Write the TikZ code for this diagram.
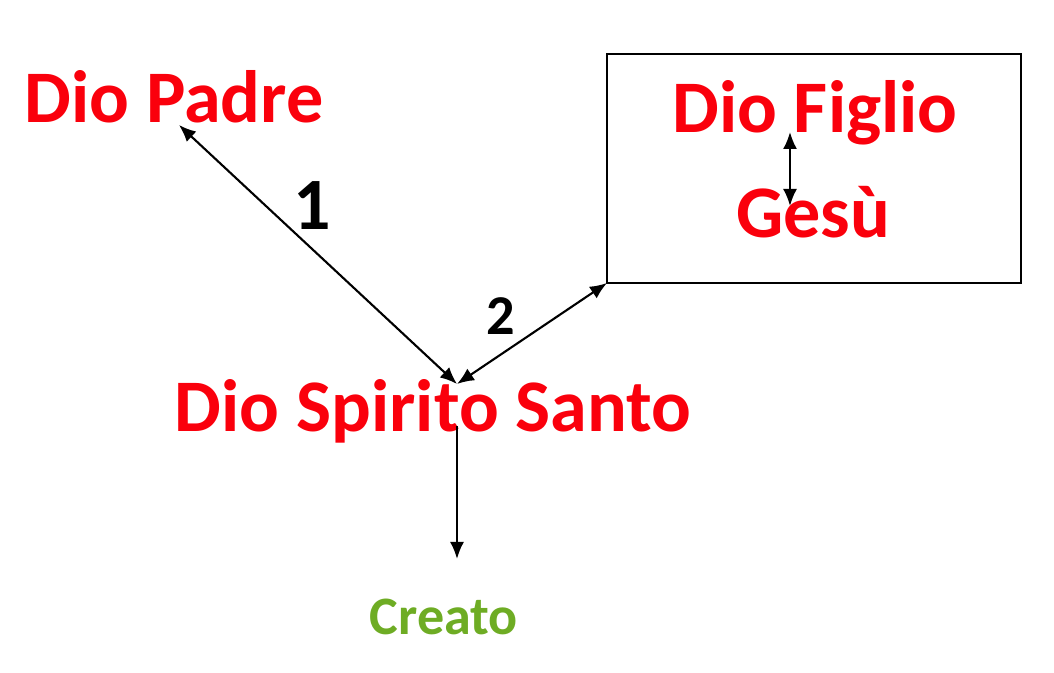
\documentclass[tikz,border=0pt]{standalone}
\usepackage{fontspec}
\setmainfont{Carlito}
\usepackage{xcolor}
\usetikzlibrary{arrows.meta, calc}

\definecolor{dioRed}{RGB}{250,0,12}
\definecolor{creatoGreen}{RGB}{110,172,36}

\tikzset{
    dio/.style={text=dioRed, font=\fontsize{21.1}{25}\selectfont\bfseries, inner sep=0pt, anchor=base},
    num/.style={text=black, font=\bfseries, inner sep=0pt, anchor=base},
    link/.style={line width=0.6pt, >={Latex[length=1.7mm,width=1.4mm]}}
}

\begin{document}
\begin{tikzpicture}
        \useasboundingbox (0,0) rectangle (10.54,6.73);
        
        \coordinate (P) at (1.79,5.48);
        \coordinate (S) at (4.57,2.89);
        \coordinate (S2) at (4.57,2.47);
        \coordinate (C) at (4.57,1.14);
        \coordinate (F1) at (6.07,3.90);
        \coordinate (F2) at (10.21,6.19);
        \coordinate (G1) at (7.90,5.41);
        \coordinate (G2) at (7.90,4.67);
        
        \node[dio] (padre) at (1.74,5.50) {Dio Padre};
        \node[dio] (figlio) at (8.15,5.40) {Dio Figlio};
        \node[dio] (gesu) at (8.13,4.35) {Gesù};
        \node[dio] (spirito) at (4.33,2.41) {Dio Spirito Santo};
        \node[anchor=base, inner sep=0pt, text=creatoGreen, font=\fontsize{15.4}{18}\selectfont\bfseries] (creato) at (4.44,0.38) {Creato};
        
        \draw[line width=0.6pt] (F1) rectangle (F2);
        
        \draw[link, <->] (P) -- (S);
        \draw[link, <->] (S) -- (F1);
        \draw[link, ->] (S2) -- (C);
        \draw[link, <->] (G1) -- (G2);
        
        \node[num, font=\fontsize{21}{24}\selectfont\bfseries] (uno) at (3.12,4.43) {1};
        \node[num, font=\fontsize{16}{19}\selectfont\bfseries] (due) at (5.01,3.38) {2};
    \end{tikzpicture}
\end{document}
